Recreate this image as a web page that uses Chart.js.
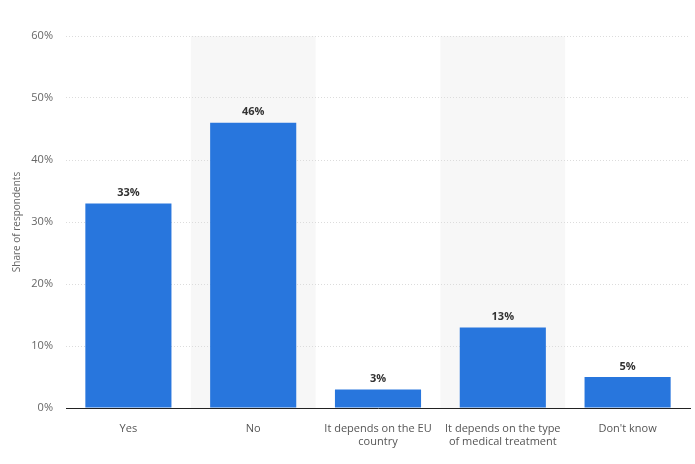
<!DOCTYPE html>
<html>
<head>
<meta charset="utf-8">
<script src="https://cdn.jsdelivr.net/npm/chart.js@4/dist/chart.umd.min.js"></script>
<style>
html,body{margin:0;padding:0;background:#fff;}
#wrap{width:695px;height:464px;}
</style>
</head>
<body>
<div id="wrap"><canvas id="c" width="695" height="464"></canvas></div>
<script>
const categories = [["Yes"], ["No"], ["It depends on the EU", "country"], ["It depends on the type", "of medical treatment"], ["Don't know"]];
const values = [33, 46, 3, 13, 5];
const yTicks = [0, 10, 20, 30, 40, 50, 60];

const bandPlugin = {
  id: 'bands',
  beforeDraw(chart) {
    const {ctx, chartArea, scales} = chart;
    const x = scales.x;
    ctx.save();
    ctx.fillStyle = '#f7f7f7';
    for (let i = 0; i < categories.length; i++) {
      if (i % 2 === 1) {
        const c = x.getPixelForValue(i);
        const w = chartArea.width / categories.length;
        ctx.fillRect(c - w / 2, chartArea.top, w, chartArea.bottom - chartArea.top);
      }
    }
    ctx.restore();
  }
};

const labelPlugin = {
  id: 'vlabels',
  afterDatasetsDraw(chart) {
    const {ctx} = chart;
    const meta = chart.getDatasetMeta(0);
    ctx.save();
    ctx.font = 'bold 11px "Open Sans", sans-serif';
    ctx.fillStyle = '#333';
    ctx.textAlign = 'center';
    ctx.textBaseline = 'bottom';
    meta.data.forEach((bar, i) => {
      ctx.fillText(values[i] + '%', bar.x, bar.y - 5);
    });
    ctx.restore();
  }
};

new Chart(document.getElementById('c'), {
  type: 'bar',
  data: {
    labels: categories,
    datasets: [{
      data: values,
      backgroundColor: '#2876dd',
      categoryPercentage: 0.69,
      barPercentage: 1.0
    }]
  },
  options: {
    responsive: false,
    animation: false,
    layout: {padding: {left: 11, right: 5, top: 36, bottom: 0}},
    plugins: {legend: {display: false}, tooltip: {enabled: false}},
    scales: {
      x: {
        grid: {display: false},
        border: {display: true, color: '#222', width: 1},
        ticks: {color: '#555', font: {family: '"Open Sans", sans-serif', size: 11}, padding: 6, maxRotation: 0, autoSkip: false},
        afterFit(s) { s.height = 56; }
      },
      y: {
        min: 0, max: 60,
        afterBuildTicks(s) { s.ticks = yTicks.map(v => ({value: v})); },
        grid: {color: '#dcdcdc', borderDash: [1, 2], drawTicks: false},
        border: {display: false, dash: [1, 2]},
        ticks: {color: '#666', font: {family: '"Open Sans", sans-serif', size: 11}, padding: 13, callback: v => v + '%'},
        title: {display: true, text: 'Share of respondents', color: '#666', font: {family: '"Open Sans", sans-serif', size: 10}, padding: {top: 0, bottom: 0}},
        afterFit(s) { s.width = 55; }
      }
    }
  },
  plugins: [bandPlugin, labelPlugin]
});
</script>
</body>
</html>
